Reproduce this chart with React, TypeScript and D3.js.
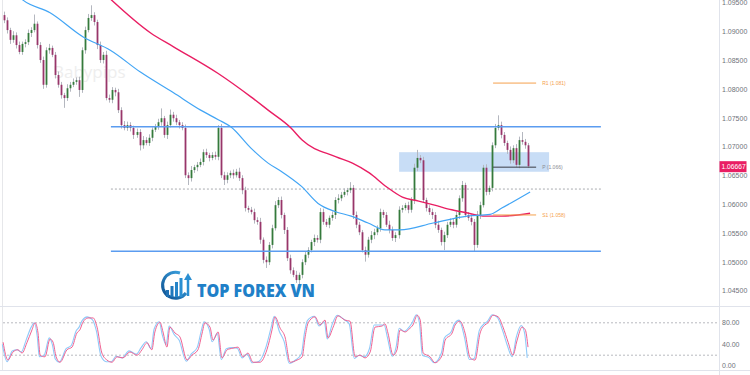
import React from "react";
import * as d3 from "d3";

// ---------- DATA ----------
const firstOpen = 1.0929;
const closes: number[] = [
  1.0920, 1.0903, 1.0886, 1.0894, 1.0877, 1.0865, 1.0879, 1.0882, 1.0898, 1.0903,
  1.0914, 1.0877, 1.0851, 1.0808, 1.0868, 1.0872, 1.0860, 1.0825, 1.0808, 1.0790,
  1.0785, 1.0802, 1.0808, 1.0813, 1.0816, 1.0799, 1.0868, 1.0903, 1.0924, 1.0929,
  1.0917, 1.0877, 1.0851, 1.0860, 1.0785, 1.0782, 1.0799, 1.0795, 1.0764, 1.0738,
  1.0733, 1.0738, 1.0733, 1.0721, 1.0726, 1.0703, 1.0712, 1.0707, 1.0716, 1.0730,
  1.0735, 1.0743, 1.0750, 1.0721, 1.0738, 1.0756, 1.0750, 1.0743, 1.0738, 1.0733,
  1.0651, 1.0646, 1.0660, 1.0665, 1.0669, 1.0674, 1.0691, 1.0686, 1.0681, 1.0686,
  1.0683, 1.0733, 1.0651, 1.0643, 1.0651, 1.0655, 1.0651, 1.0657, 1.0646, 1.0625,
  1.0594, 1.0591, 1.0587, 1.0573, 1.0570, 1.0539, 1.0504, 1.0500, 1.0530, 1.0559,
  1.0599, 1.0608, 1.0582, 1.0556, 1.0507, 1.0486, 1.0478, 1.0469, 1.0478, 1.0500,
  1.0513, 1.0521, 1.0535, 1.0542, 1.0539, 1.0587, 1.0570, 1.0565, 1.0577, 1.0582,
  1.0608, 1.0611, 1.0617, 1.0622, 1.0625, 1.0629, 1.0582, 1.0565, 1.0552, 1.0521,
  1.0513, 1.0539, 1.0547, 1.0552, 1.0559, 1.0587, 1.0582, 1.0565, 1.0556, 1.0542,
  1.0547, 1.0591, 1.0594, 1.0599, 1.0591, 1.0608, 1.0664, 1.0681, 1.0677, 1.0608,
  1.0594, 1.0587, 1.0582, 1.0565, 1.0556, 1.0535, 1.0547, 1.0565, 1.0570, 1.0565,
  1.0582, 1.0611, 1.0634, 1.0582, 1.0577, 1.0570, 1.0530, 1.0582, 1.0599, 1.0664,
  1.0622, 1.0629, 1.0703, 1.0733, 1.0738, 1.0721, 1.0707, 1.0695, 1.0677, 1.0698,
  1.0669, 1.0712, 1.0709, 1.0703, 1.06667,
];
// wick extensions in pips
const wickHi: number[] = [
  6, 5, 4, 7, 5, 6, 4, 5, 6, 5, 16, 4, 5, 6, 5, 7, 4, 5, 6, 5, 4, 7, 5, 6, 5,
  6, 5, 6, 7, 17, 5, 4, 6, 5, 7, 6, 5, 4, 6, 5, 7, 6, 5, 4, 6, 5, 7, 5, 6, 4,
  5, 6, 17, 4, 6, 9, 5, 6, 4, 5, 6, 5, 7, 4, 5, 6, 5, 6, 4, 5, 6, 5, 7, 6, 5,
  4, 6, 5, 7, 5, 6, 4, 5, 6, 5, 7, 4, 6, 5, 6, 7, 5, 6, 4, 5, 6, 5, 7, 4, 5,
  6, 5, 4, 6, 5, 7, 6, 5, 4, 6, 5, 7, 5, 6, 4, 10, 5, 6, 5, 4, 6, 5, 7, 6, 5,
  6, 4, 5, 7, 6, 5, 6, 5, 4, 6, 5, 7, 14, 5, 6, 4, 5, 6, 5, 7, 4, 6, 5, 6, 5,
  6, 5, 7, 4, 5, 6, 5, 7, 6, 5, 6, 4, 5, 7, 17, 6, 5, 4, 6, 5, 7, 6, 14, 5, 4,
];
const wickLo: number[] = [
  5, 6, 7, 5, 6, 4, 5, 6, 5, 7, 4, 6, 5, 7, 5, 6, 4, 6, 5, 6, 17, 5, 6, 4, 5,
  12, 5, 6, 4, 5, 6, 7, 5, 6, 4, 5, 6, 7, 5, 6, 4, 5, 6, 7, 5, 9, 6, 4, 5, 6,
  4, 5, 6, 5, 7, 4, 6, 5, 6, 4, 5, 12, 6, 5, 7, 4, 6, 5, 6, 4, 5, 6, 5, 9, 6,
  5, 6, 4, 5, 7, 6, 5, 4, 6, 5, 7, 6, 10, 5, 6, 4, 5, 6, 7, 5, 6, 4, 5, 8, 6,
  5, 6, 4, 7, 5, 6, 5, 4, 6, 5, 7, 6, 5, 4, 6, 5, 7, 6, 5, 4, 12, 5, 6, 7, 5,
  6, 5, 4, 6, 5, 7, 6, 5, 4, 6, 5, 7, 6, 5, 4, 6, 5, 7, 6, 5, 6, 14, 5, 4, 6,
  5, 7, 6, 4, 5, 6, 12, 5, 7, 4, 6, 5, 6, 5, 4, 6, 5, 7, 6, 5, 4, 6, 5, 6, 3,
];

// moving averages: [candle index, price]
const maBlue: [number, number][] = [
  [5.6, 1.0958], [6.3, 1.0955], [15.3, 1.0933], [26.3, 1.0891], [35.3, 1.0868],
  [45.3, 1.0830], [56.3, 1.0794], [65.3, 1.0764], [71.3, 1.0747], [75.3, 1.0735],
  [82, 1.0698], [87.7, 1.0672], [92, 1.0658], [98.7, 1.0632], [104.3, 1.0602],
  [109.9, 1.0588], [115.3, 1.0580], [120.9, 1.0568], [126.5, 1.0556], [131.5, 1.0556],
  [142.5, 1.0568], [153.8, 1.0580], [161.4, 1.0583], [165.3, 1.0594], [174.7, 1.0622],
];
const maPink: [number, number][] = [
  [34.7, 1.0960], [48.7, 1.0898], [56.3, 1.0874], [71, 1.0828], [82, 1.0787],
  [87.7, 1.0764], [95.3, 1.0733], [99, 1.0712], [110.3, 1.0683], [115.7, 1.0672],
  [121.3, 1.0655], [127, 1.0631], [132.3, 1.0613], [137.7, 1.0606], [143, 1.0599],
  [148.7, 1.0591], [154.3, 1.0585], [159.7, 1.0580], [165.3, 1.0580], [174.7, 1.0585],
];

// stochastic: [candle index, %D, %K]
const stoch: [number, number, number][] = [
  [-0.3, 44, 40], [1.3, 11, 8], [3, 26, 28], [4.6, 30, 30], [6, 24, 26], [7.6, 43, 48],
  [9.3, 67, 72], [10.3, 80, 80], [11.3, 61, 55], [12, 20, 17], [13.6, 17, 20], [15.3, 50, 52],
  [16.3, 44, 40], [17.3, 17, 13], [18.6, 7, 7], [20.9, 30, 32], [22.6, 35, 38], [24.2, 61, 65],
  [25.2, 67, 72], [26.2, 81, 84], [27.9, 89, 91], [29.6, 89, 86], [30.9, 72, 66], [32.5, 24, 18],
  [34.2, 11, 8], [35.9, 7, 8], [37.5, 17, 18], [39.5, 15, 15], [41.8, 26, 28], [44.2, 20, 22],
  [45.8, 30, 34], [47.5, 43, 45], [49.1, 30, 32], [50.1, 63, 68], [51.8, 81, 82], [52.8, 63, 58],
  [54.1, 35, 40], [55.1, 72, 74], [56.8, 61, 58], [58.4, 54, 48], [60.8, 11, 9], [62.4, 20, 22],
  [64.4, 30, 34], [65.8, 61, 66], [66.7, 80, 82], [68.4, 72, 68], [69.4, 48, 45], [71.1, 63, 60],
  [72.4, 15, 12], [74.1, 30, 32], [76, 33, 34], [77.7, 35, 33], [79.4, 17, 15], [81, 24, 22],
  [82.7, 7, 6], [85, 7, 9], [87.3, 30, 36], [89, 67, 72], [90, 91, 92], [91.7, 70, 64],
  [93.3, 54, 45], [95, 7, 5], [97.3, 11, 12], [99, 17, 22], [100, 54, 60], [101, 80, 84],
  [103.3, 91, 92], [104.9, 76, 74], [106.6, 85, 82], [107.6, 52, 50], [109.3, 72, 78], [110.9, 93, 94],
  [113.2, 85, 86], [114.9, 83, 78], [116.6, 17, 14], [118.2, 20, 20], [119.9, 15, 17], [121.6, 26, 32],
  [123.2, 72, 76], [125.5, 74, 76], [126.5, 78, 76], [127.5, 61, 55], [129.2, 20, 18], [130.5, 30, 36],
  [131.5, 67, 70], [133.2, 63, 64], [134.8, 70, 72], [135.8, 76, 80], [137.2, 94, 95], [138.2, 85, 80],
  [139.2, 24, 20], [141.5, 17, 15], [143.1, 6, 6], [145.5, 20, 24], [146.5, 48, 52], [148.8, 61, 64],
  [149.8, 76, 78], [151.4, 83, 85], [153.1, 61, 55], [154.8, 15, 12], [156.4, 11, 14], [158.1, 61, 66],
  [159.7, 76, 78], [160.7, 80, 82], [162.4, 94, 95], [164.1, 91, 90], [165.7, 72, 68], [167.4, 44, 38],
  [169, 20, 17], [170.4, 48, 54], [172, 72, 75], [173.1, 67, 62], [174, 35, 15],
];

const priceTicks = [1.045, 1.05, 1.055, 1.06, 1.065, 1.07, 1.075, 1.08, 1.085, 1.09, 1.095];
const stochTicks = [0, 40, 80];
const stochBands = [20, 80];

const levelLines = [1.0735, 1.0519];
const dottedLevel = 1.0627;
const levelSpan = [35.5, 198.2];
const zoneTop = 1.0691;
const zoneBottom = 1.0657;
const zoneSpan = [131.2, 181];

const pivotNames = ["R1", "P", "S1"];
const pivotPrices = [1.0811, 1.0665, 1.0582];
const pivotLabels = ["R1 (1.081)", "P (1.066)", "S1 (1.058)"];
const pivotSpan = [162.4, 176.7];
const pivotLabelIdx = 178.7;

const lastPrice = 1.06667;

// ---------- CHART ----------
export default function App() {
  const W = 750, H = 375;
  const axisX = 719.5;
  const x = d3.scaleLinear().domain([0, closes.length - 1]).range([4, 528]);
  const y = d3.scaleLinear().domain([1.045, 1.095]).range([291, 3]);
  const ys = d3.scaleLinear().domain([0, 100]).range([366, 312]);

  const candles = closes.map((c, i) => {
    const o = i === 0 ? firstOpen : closes[i - 1];
    const hi = Math.max(o, c) + wickHi[i] * 0.0001;
    const lo = Math.min(o, c) - wickLo[i] * 0.0001;
    return { i, o, c, hi, lo };
  });

  const maLine = d3
    .line<[number, number]>()
    .x((d) => x(d[0]))
    .y((d) => y(d[1]))
    .curve(d3.curveMonotoneX);
  const stochD = d3
    .line<[number, number, number]>()
    .x((d) => x(d[0]))
    .y((d) => ys(d[1]))
    .curve(d3.curveMonotoneX);
  const stochK = d3
    .line<[number, number, number]>()
    .x((d) => x(d[0]) - 0.8)
    .y((d) => ys(d[2]))
    .curve(d3.curveMonotoneX);

  const up = "#357a3c";
  const down = "#98366a";
  const wick = "#b4b7bf";
  const lvl = "#5b9cf0";
  const orange = "#f5a04c";
  const axisFont = "'Liberation Sans', Arial, sans-serif";

  return (
    <svg
      width={W}
      height={H}
      style={{ position: "absolute", left: 0, top: 0, background: "#fff" }}
      fontFamily={axisFont}
    >
      <defs>
        <clipPath id="pricePanel">
          <rect x={0} y={0} width={axisX} height={306} />
        </clipPath>
        <linearGradient id="logoGrad" x1="0" y1="1" x2="1" y2="0">
          <stop offset="0%" stopColor="#0d4f8f" />
          <stop offset="100%" stopColor="#3fa9e6" />
        </linearGradient>
      </defs>

      {/* frame */}
      <line x1={2.5} x2={2.5} y1={0} y2={370} stroke="#e6e7ea" />
      <line x1={axisX} x2={axisX} y1={0} y2={H} stroke="#e0e3eb" />
      <line x1={0} x2={W} y1={306.5} y2={306.5} stroke="#e0e3eb" />
      <line x1={0} x2={W} y1={370.5} y2={370.5} stroke="#e0e3eb" />

      {/* watermark */}
      <text x={53} y={78} fontSize={17} fill="#eeeeee" fontFamily="'Open Sans', sans-serif">
        Babypips
      </text>

      <g clipPath="url(#pricePanel)">
        {/* zone */}
        <rect
          x={x(zoneSpan[0])}
          y={y(zoneTop)}
          width={x(zoneSpan[1]) - x(zoneSpan[0])}
          height={y(zoneBottom) - y(zoneTop)}
          fill="#4a90e2"
          opacity={0.3}
        />
        {/* dotted level */}
        <line
          x1={x(levelSpan[0])}
          x2={x(levelSpan[1])}
          y1={y(dottedLevel)}
          y2={y(dottedLevel)}
          stroke="#a9abb0"
          strokeDasharray="2,2"
        />

        {/* candles */}
        {candles.map((d) => {
          const top = y(Math.max(d.o, d.c));
          const bot = y(Math.min(d.o, d.c));
          const cx = Math.round(x(d.i)) + 0.5;
          return (
            <g key={d.i}>
              <line x1={cx} x2={cx} y1={y(d.hi)} y2={y(d.lo)} stroke={wick} strokeWidth={1} />
              <rect
                x={cx - 0.9}
                y={top}
                width={1.8}
                height={Math.max(1, bot - top)}
                fill={d.c >= d.o ? up : down}
              />
            </g>
          );
        })}

        {/* horizontal levels */}
        {levelLines.map((p) => (
          <line
            key={p}
            x1={x(levelSpan[0])}
            x2={x(levelSpan[1])}
            y1={y(p)}
            y2={y(p)}
            stroke={lvl}
            strokeWidth={1.5}
          />
        ))}

        {/* moving averages */}
        <path d={maLine(maPink) || ""} fill="none" stroke="#e91e63" strokeWidth={1.4} />
        <path d={maLine(maBlue) || ""} fill="none" stroke="#42a5f5" strokeWidth={1.2} />

        {/* pivots */}
        {pivotPrices.map((p, k) => (
          <g key={pivotNames[k]}>
            <line
              x1={x(pivotSpan[0])}
              x2={x(pivotSpan[1])}
              y1={y(p)}
              y2={y(p)}
              stroke={pivotNames[k] === "P" ? "#3a3d45" : orange}
              strokeWidth={1}
            />
            <text
              x={x(pivotLabelIdx)}
              y={y(p)}
              dy="0.35em"
              fontSize={5}
              fill={pivotNames[k] === "P" ? "#8a8d95" : orange}
            >
              {pivotLabels[k]}
            </text>
          </g>
        ))}
      </g>

      {/* price axis */}
      {priceTicks.map((t) => (
        <text key={t} x={722} y={y(t)} dy="0.35em" fontSize={7} fill="#6f727a">
          {t.toFixed(5)}
        </text>
      ))}
      <rect x={axisX} y={y(lastPrice) - 5} width={27} height={11} fill="#e91e63" />
      <text x={721.5} y={y(lastPrice) + 0.5} dy="0.35em" fontSize={6.7} fill="#fff">
        {lastPrice.toFixed(5)}
      </text>

      {/* logo */}
      <g>
        <path
          d="M 186 293 A 13 13 0 1 1 180 273"
          fill="none"
          stroke="url(#logoGrad)"
          strokeWidth={3}
        />
        <rect x={166} y={290} width={3} height={7} fill="#1d6fb3" />
        <rect x={170.5} y={286} width={3} height={11} fill="#1f78bd" />
        <rect x={175} y={282} width={3} height={15} fill="#2584c8" />
        <rect x={179.5} y={278} width={3} height={19} fill="#2b8fd2" />
        <line x1={188} x2={188} y1={296} y2={278} stroke="#2b8fd2" strokeWidth={2.5} />
        <path d="M 184 280 L 188 273 L 192 280 Z" fill="#2b8fd2" />
        <text
          x={197}
          y={297}
          fontSize={17}
          fontWeight={800}
          fill="#1f80c8"
          fontFamily="'Open Sans', sans-serif"
          textLength={118}
          lengthAdjust="spacingAndGlyphs"
        >
          TOP FOREX VN
        </text>
      </g>

      {/* stochastic panel */}
      {stochBands.map((b) => (
        <line
          key={b}
          x1={3}
          x2={718}
          y1={ys(b)}
          y2={ys(b)}
          stroke="#b8babf"
          strokeDasharray="2,2"
        />
      ))}
      <path d={stochK(stoch) || ""} fill="none" stroke="#90caf9" strokeWidth={1.1} />
      <path d={stochD(stoch) || ""} fill="none" stroke="#f06292" strokeWidth={1} />
      {stochTicks.map((t) => (
        <text key={t} x={722} y={ys(t)} dy="0.35em" fontSize={7} fill="#6f727a">
          {t.toFixed(2)}
        </text>
      ))}
    </svg>
  );
}
